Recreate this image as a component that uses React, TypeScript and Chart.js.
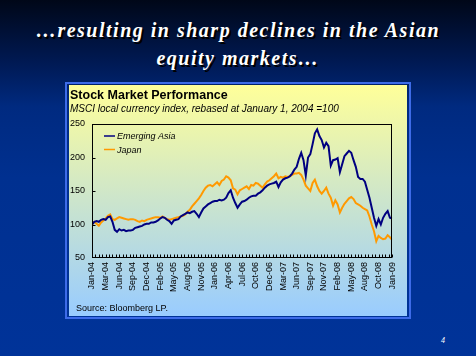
import React, { useEffect, useRef } from "react";
import { Chart, registerables } from "chart.js";

Chart.register(...registerables);

// ---------- data ----------
const SLIDE_TITLE_1 = "\u2026resulting in sharp declines in the Asian";
const SLIDE_TITLE_2 = "equity markets\u2026";
const CHART_TITLE = "Stock Market Performance";
const CHART_SUBTITLE = "MSCI local currency index, rebased at January 1, 2004 =100";
const SOURCE = "Source: Bloomberg LP.";
const PAGE_NUMBER = "4";

const TICK_LABELS = [
  "Jan-04", "Mar-04", "Jun-04", "Sep-04", "Dec-04", "Feb-05", "May-05", "Aug-05",
  "Nov-05", "Jan-06", "Apr-06", "Jul-06", "Oct-06", "Dec-06", "Mar-07", "Jun-07",
  "Sep-07", "Nov-07", "Feb-08", "May-08", "Aug-08", "Oct-08", "Jan-09",
];
const WEEKS_PER_LABEL = 12;
const WEEKS_PER_POINT = 2;
const WEEKS_PER_TICK = 3;

const Y_MIN = 50;
const Y_MAX = 250;
const Y_STEP = 50;

const SERIES_NAMES = ["Emerging Asia", "Japan"];

// fortnightly values, Jan-04 .. Jan-09
const EMERGING_ASIA = [
  100, 104, 105, 104, 107, 108, 107, 111, 112, 104, 92, 89, 93, 91, 92, 90, 91, 91, 92, 95,
  96, 97, 98, 100, 101, 101, 103, 103, 104, 106, 109, 111, 110, 107, 105, 101, 106, 107, 108, 112,
  114, 116, 118, 117, 119, 120, 116, 111, 118, 124, 127, 130, 132, 134, 135, 135, 137, 136, 137, 140,
  147, 151, 140, 132, 125, 130, 134, 135, 137, 140, 142, 143, 143, 146, 148, 151, 155, 158, 160, 161,
  162, 164, 156, 163, 167, 169, 170, 172, 176, 182, 186, 198, 207, 196, 173, 200, 205, 220, 236, 242,
  232, 226, 215, 222, 217, 188, 196, 197, 199, 178, 190, 202, 206, 210, 207, 196, 186, 171, 168, 168,
  164, 152, 140, 125, 110, 98, 108, 100, 110, 116, 120, 110, 109,
];

const JAPAN = [
  100, 104, 101, 98, 103, 106, 109, 113, 115, 108, 107, 109, 111, 110, 109, 108, 107, 108, 108, 107,
  105, 104, 106, 105, 107, 108, 109, 110, 111, 111, 110, 112, 110, 108, 107, 108, 109, 110, 111, 112,
  113, 115, 119, 122, 127, 131, 135, 139, 144, 150, 155, 158, 159, 157, 160, 163, 159, 165, 167, 172,
  170, 166, 154, 152, 145, 151, 153, 155, 157, 153, 159, 158, 162, 161, 158, 155, 160, 164, 166, 169,
  172, 176, 169, 171, 170, 172, 171, 172, 174, 176, 176, 177, 174, 167, 158, 154, 150, 162, 167, 157,
  150, 146, 150, 155, 146, 140, 128, 136, 130, 118, 125, 131, 135, 139, 141, 138, 132, 130, 128, 125,
  123, 121, 112, 100, 90, 75, 83, 80, 78, 79, 84, 81, 77,
];

const SERIES_VALUES = [EMERGING_ASIA, JAPAN];
const SERIES_COLORS = ["#000080", "#FF9900"];

// ---------- styles ----------
const CHART_FONT = "'Liberation Sans', Arial, sans-serif";

const panelTextPlugin = {
  id: "panelText",
  afterDraw(chart: any) {
    const { ctx, chartArea, scales } = chart;
    const { left, right, top, bottom } = chartArea;
    ctx.save();
    // frame
    ctx.strokeStyle = "#000";
    ctx.lineWidth = 1;
    const l = Math.round(left) + 0.5;
    const r = Math.round(right) - 0.5;
    const t = Math.round(top) + 0.5;
    const b = Math.round(bottom) - 0.5;
    ctx.strokeRect(l, t, r - l, b - t);
    // inward x ticks
    const xs = scales.x;
    ctx.beginPath();
    for (let w = 0; w <= xs.max + 0.001; w += WEEKS_PER_TICK) {
      const px = Math.round(xs.getPixelForValue(w)) + 0.5;
      ctx.moveTo(px, b);
      ctx.lineTo(px, b - 3);
    }
    // inward y ticks
    const ys = scales.y;
    for (let v = Y_MIN + Y_STEP; v < Y_MAX; v += Y_STEP) {
      const py = Math.round(ys.getPixelForValue(v)) + 0.5;
      ctx.moveTo(l, py);
      ctx.lineTo(l + 3, py);
    }
    ctx.stroke();

    // titles
    ctx.fillStyle = "#000";
    ctx.textBaseline = "alphabetic";
    ctx.textAlign = "left";
    ctx.font = `bold 12.5px ${CHART_FONT}`;
    ctx.fillText(CHART_TITLE, 1, 14);
    ctx.font = `italic 10px ${CHART_FONT}`;
    ctx.fillText(CHART_SUBTITLE, 1, 27);
    ctx.font = `9px ${CHART_FONT}`;
    ctx.fillText(SOURCE, 7, 226);

    // legend
    ctx.font = `italic 9px ${CHART_FONT}`;
    chart.data.datasets.forEach((ds: any, i: number) => {
      const y = 51 + i * 13.5;
      ctx.strokeStyle = ds.borderColor;
      ctx.lineWidth = 1.5;
      ctx.beginPath();
      ctx.moveTo(35, y);
      ctx.lineTo(46, y);
      ctx.stroke();
      ctx.fillStyle = "#000";
      ctx.fillText(ds.label, 48, y + 3);
    });
    ctx.restore();
  },
};

function StockChart() {
  const ref = useRef<HTMLCanvasElement | null>(null);
  useEffect(() => {
    if (!ref.current) return;
    const datasets = SERIES_NAMES.map((name, s) => ({
      label: name,
      data: SERIES_VALUES[s].map((v, i) => ({ x: i * WEEKS_PER_POINT, y: v })),
      borderColor: SERIES_COLORS[s],
      backgroundColor: SERIES_COLORS[s],
      borderWidth: 2,
      pointRadius: 0,
      tension: 0,
      fill: false,
    }));
    const chart = new Chart(ref.current, {
      type: "line",
      data: { datasets },
      plugins: [panelTextPlugin],
      options: {
        animation: false,
        responsive: false,
        devicePixelRatio: 1,
        layout: { padding: { top: 39, right: 8, bottom: 18, left: 0 } },
        plugins: { legend: { display: false }, tooltip: { enabled: false }, title: { display: false } },
        scales: {
          x: {
            type: "linear",
            min: 0,
            max: (TICK_LABELS.length - 1) * WEEKS_PER_LABEL,
            grid: { display: false, drawTicks: false },
            border: { display: false },
            afterBuildTicks: (scale: any) => {
              scale.ticks = TICK_LABELS.map((_, k) => ({ value: k * WEEKS_PER_LABEL }));
            },
            afterFit: (scale: any) => {
              scale.height = 40;
            },
            ticks: {
              autoSkip: false,
              minRotation: 90,
              maxRotation: 90,
              padding: 4,
              color: "#000",
              font: { family: CHART_FONT, size: 9 },
              callback: (value: any) => TICK_LABELS[Math.round(Number(value) / WEEKS_PER_LABEL)] ?? "",
            },
          },
          y: {
            min: Y_MIN,
            max: Y_MAX,
            grid: { display: false, drawTicks: false },
            border: { display: false },
            afterFit: (scale: any) => {
              scale.width = 23;
            },
            ticks: {
              stepSize: Y_STEP,
              padding: 7,
              color: "#000",
              font: { family: CHART_FONT, size: 9 },
            },
          },
        },
      },
    } as any);
    return () => chart.destroy();
  }, []);
  return <canvas ref={ref} width={338} height={231} style={{ width: 338, height: 231, display: "block" }} />;
}

export default function App() {
  return (
    <div
      style={{
        position: "fixed",
        left: 0,
        top: 0,
        width: 476,
        height: 356,
        overflow: "hidden",
        background: "linear-gradient(to bottom, #000718 0%, #001a55 18%, #002a80 30%, #003090 50%, #003399 100%)",
      }}
    >
      <div
        style={{
          position: "absolute",
          left: 0,
          top: 16,
          width: 476,
          textAlign: "center",
          color: "#fff",
          fontFamily: "'Liberation Serif', 'Times New Roman', serif",
          fontWeight: "bold",
          fontStyle: "italic",
          fontSize: 20,
          lineHeight: "28px",
          letterSpacing: 1.5,
          textShadow: "2px 2px 0 #000",
        }}
      >
        <div>{SLIDE_TITLE_1}</div>
        <div>{SLIDE_TITLE_2}</div>
      </div>
      <div
        style={{
          position: "absolute",
          left: 65,
          top: 82,
          width: 342,
          height: 233,
          border: "2px solid #3d6be8",
        }}
      />
      <div
        style={{
          position: "absolute",
          left: 69,
          top: 85,
          width: 338,
          height: 231,
          background: "linear-gradient(to bottom, #ffff99 0%, #cce5cc 50%, #99ccff 100%)",
        }}
      >
        <StockChart />
      </div>
      <div
        style={{
          position: "absolute",
          left: 441,
          top: 336,
          color: "#fff",
          fontFamily: "'Liberation Serif', serif",
          fontStyle: "italic",
          fontSize: 8,
        }}
      >
        {PAGE_NUMBER}
      </div>
    </div>
  );
}
